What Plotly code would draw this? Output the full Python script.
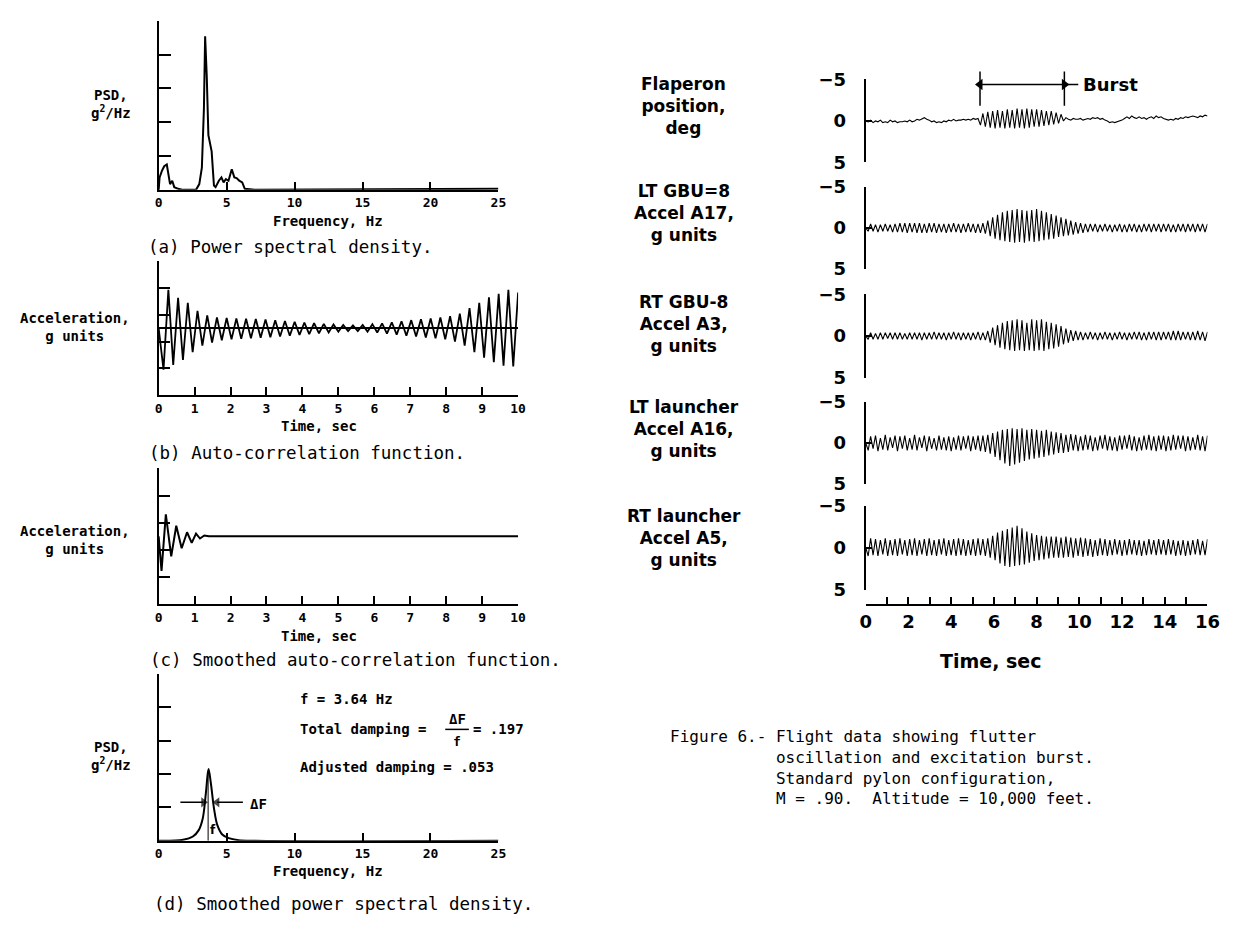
import numpy as np
import plotly.graph_objects as go

# ---------------- data ----------------
# (a) Power spectral density
FREQ_A = [0, 0.07, 0.24, 0.41, 0.6, 0.72, 0.84, 1.0, 1.15, 1.44, 1.8, 2.75, 2.99, 3.18, 3.33, 3.42,
          3.54, 3.66, 3.9, 4.07, 4.19, 4.43, 4.62, 4.78, 4.95, 5.14, 5.38, 5.57, 5.74, 5.93, 6.15,
          6.34, 7.06, 25.0]
PSD_A = [0, 0.37, 0.56, 0.70, 0.75, 0.46, 0.17, 0.27, 0.08, 0.03, 0, 0, 0.17, 0.66, 2.39, 4.54,
         3.36, 1.62, 1.14, 0.13, 0.08, 0.27, 0.37, 0.22, 0.32, 0.27, 0.61, 0.37, 0.35, 0.27, 0.22,
         0.03, 0, 0.03]

# (b) Auto-correlation function: successive extremes over 0-10 s
ACF = [0, -1.55, 1.43, -1.37, 1.13, -1.19, 0.95, -0.9, 0.65, -0.65, 0.48,
       -0.54, 0.4, -0.45, 0.38, -0.42, 0.36, -0.4, 0.35, -0.38, 0.34,
       -0.36, 0.32, -0.34, 0.3, -0.31, 0.27, -0.28, 0.24, -0.25, 0.21,
       -0.22, 0.19, -0.19, 0.16, -0.16, 0.14, -0.13, 0.12, -0.11, 0.1,
       -0.11, 0.12, -0.13, 0.15, -0.16, 0.18, -0.2, 0.22, -0.24, 0.26,
       -0.28, 0.3, -0.31, 0.33, -0.35, 0.36, -0.38, 0.4, -0.42, 0.45,
       -0.5, 0.54, -0.65, 0.75, -0.9, 0.95, -1.1, 1.15, -1.27, 1.28,
       -1.4, 1.43, -1.43, 1.33]
ACF_T_END = 10.0

# (c) Smoothed auto-correlation function
SACF_T = [0, 0.08, 0.2, 0.35, 0.49, 0.64, 0.79, 0.92, 1.04, 1.15, 1.27, 1.4, 10.0]
SACF_V = [0, -1.27, 0.81, -0.74, 0.39, -0.44, 0.15, -0.24, 0.1, -0.08, 0.03, 0, 0]

# (d) Smoothed power spectral density
FREQ_D = [0, 1.8, 2.52, 2.95, 3.24, 3.48, 3.67, 3.84, 4.08, 4.32, 4.68, 5.16, 5.88, 7.1, 25.0]
PSD_D = [0, 0.03, 0.13, 0.32, 0.66, 1.44, 2.15, 1.73, 0.95, 0.47, 0.19, 0.08, 0.02, 0, 0]
F_PEAK = 3.64
F_LINE_TOP = 2.1
DF_LEVEL = 1.15
DF_LEFT_ARROW = [1.6, 3.3]    # tail -> head (Hz)
DF_RIGHT_ARROW = [6.2, 4.3]   # tail -> head (Hz)

# Right: flight records, successive extremes over 0-16 s
FLAP = [0,
        0.1, -0.1, 0.2, 0.0, 0.1, -0.1, 0.2, 0.1, 0.2, -0.1,
        0.1, 0.0, 0.2, 0.1, 0.1, 0.0, 0.1, -0.1, 0.1, 0.0,
        -0.2, -0.1, -0.3, -0.4, -0.2, -0.1, 0.1, 0.0, 0.2, 0.1,
        0.2, 0.0, 0.1, -0.1, 0.0, -0.2, 0.0, -0.1, -0.1, -0.2,
        -0.1, -0.2, -0.1, -0.3, -0.2, -0.3, 0.5, -0.9, 0.7, -1.1,
        0.8, -1.2, 0.9, -1.3, 0.8, -1.2, 0.9, -1.4, 0.8, -1.3,
        0.9, -1.5, 0.8, -1.4, 0.9, -1.5, 0.8, -1.4, 0.7, -1.4,
        0.7, -1.3, 0.6, -1.2, 0.5, -1.2, 0.4, -1.0, 0.3, -0.8,
        0.0, -0.4, -0.2, -0.1, -0.3, -0.2, -0.2, -0.3, -0.1, -0.2,
        -0.3, -0.2, -0.4, -0.3, -0.4, -0.2, -0.3, -0.1, 0.0, 0.2,
        0.1, 0.2, 0.1, 0.0, -0.1, -0.3, -0.5, -0.3, -0.6, -0.4,
        -0.3, -0.5, -0.3, -0.4, -0.2, -0.4, -0.5, -0.3, -0.6, -0.4,
        -0.5, -0.3, -0.2, -0.1, -0.2, -0.1, -0.3, -0.2, -0.4, -0.3,
        -0.5, -0.4, -0.5, -0.6, -0.5, -0.4, -0.6, -0.5, -0.7, -0.6]

A17 = [0,
       0.4, -0.5, 0.4, -0.4, 0.5, -0.4, 0.4, -0.5, 0.4, -0.4,
       0.5, -0.5, 0.5, -0.6, 0.5, -0.6, 0.6, -0.6, 0.5, -0.6,
       0.6, -0.6, 0.6, -0.5, 0.6, -0.6, 0.5, -0.6, 0.6, -0.5,
       0.5, -0.5, 0.6, -0.5, 0.5, -0.6, 0.5, -0.5, 0.6, -0.5,
       0.5, -0.6, 0.5, -0.5, 0.6, -0.5, 0.6, -0.6, 0.7, -0.9,
       1.0, -1.3, 1.3, -1.6, 1.5, -1.9, 1.6, -2.1, 1.7, -2.2,
       1.8, -2.3, 1.7, -2.2, 1.8, -2.1, 1.6, -2.2, 1.7, -2.3,
       1.6, -2.1, 1.5, -1.9, 1.4, -1.7, 1.3, -1.5, 1.1, -1.3,
       1.0, -1.1, 0.9, -0.9, 0.8, -0.7, 0.7, -0.6, 0.6, -0.5,
       0.5, -0.5, 0.4, -0.5, 0.5, -0.4, 0.4, -0.5, 0.4, -0.4,
       0.5, -0.4, 0.4, -0.5, 0.5, -0.4, 0.5, -0.5, 0.4, -0.5,
       0.5, -0.4, 0.5, -0.5, 0.4, -0.5, 0.5, -0.5, 0.4, -0.5,
       0.5, -0.5, 0.4, -0.5, 0.5, -0.4, 0.5, -0.5, 0.4, -0.5,
       0.5, -0.5, 0.4, -0.5, 0.5, -0.5, 0.4, -0.5, 0.5, -0.5]

A3 = [0,
      0.4, -0.4, 0.4, -0.3, 0.4, -0.4, 0.4, -0.4, 0.3, -0.4,
      0.4, -0.4, 0.4, -0.4, 0.4, -0.3, 0.4, -0.4, 0.4, -0.4,
      0.4, -0.4, 0.5, -0.4, 0.4, -0.4, 0.4, -0.5, 0.4, -0.4,
      0.4, -0.4, 0.5, -0.4, 0.4, -0.5, 0.4, -0.4, 0.5, -0.4,
      0.4, -0.4, 0.5, -0.4, 0.4, -0.5, 0.5, -0.4, 0.5, -0.6,
      0.8, -1.0, 1.1, -1.3, 1.4, -1.6, 1.6, -1.8, 1.7, -1.9,
      1.8, -2.0, 1.7, -1.9, 1.8, -1.6, 1.7, -2.0, 1.8, -1.9,
      1.7, -2.0, 1.8, -1.7, 1.6, -1.6, 1.5, -1.4, 1.3, -1.2,
      1.0, -0.9, 0.8, -0.7, 0.6, -0.6, 0.5, -0.5, 0.5, -0.4,
      0.4, -0.5, 0.4, -0.4, 0.5, -0.4, 0.4, -0.5, 0.4, -0.4,
      0.5, -0.4, 0.4, -0.5, 0.4, -0.4, 0.5, -0.4, 0.4, -0.5,
      0.4, -0.5, 0.5, -0.4, 0.5, -0.5, 0.4, -0.5, 0.5, -0.5,
      0.5, -0.5, 0.4, -0.5, 0.5, -0.6, 0.5, -0.6, 0.5, -0.5,
      0.4, -0.5, 0.5, -0.5, 0.5, -0.6, 0.5, -0.5, 0.6, -0.5]

A16 = [0,
       0.9, -0.8, 0.7, -0.9, 1.0, -0.6, 0.8, -1.0, 0.9, -0.7,
       0.6, -0.9, 1.0, -0.8, 0.7, -0.9, 0.9, -0.6, 0.8, -1.0,
       0.9, -0.7, 0.6, -0.9, 1.0, -0.8, 0.7, -0.6, 0.9, -0.9,
       0.8, -0.7, 0.9, -0.8, 1.0, -0.7, 0.8, -0.9, 0.9, -0.8,
       0.7, -0.9, 1.0, -0.8, 0.8, -0.9, 1.0, -0.9, 1.1, -1.0,
       1.3, -1.2, 1.7, -1.4, 2.1, -1.6, 2.5, -1.7, 2.8, -1.8,
       2.6, -1.7, 2.4, -1.8, 2.2, -1.6, 2.0, -1.7, 1.9, -1.6,
       1.8, -1.5, 1.7, -1.6, 1.5, -1.4, 1.4, -1.3, 1.2, -1.2,
       1.2, -1.0, 1.1, -1.1, 0.9, -1.0, 1.0, -0.8, 0.9, -1.0,
       0.8, -0.9, 1.0, -0.7, 0.9, -0.9, 0.7, -1.0, 0.9, -0.8,
       0.9, -0.7, 1.0, -0.9, 0.8, -0.9, 0.7, -1.0, 0.9, -0.8,
       1.0, -0.7, 0.9, -0.9, 0.8, -1.0, 0.9, -0.8, 1.0, -0.9,
       0.8, -0.9, 1.0, -0.8, 0.9, -1.0, 0.8, -0.9, 0.7, -0.9,
       1.0, -0.8, 0.9, -0.7, 0.8, -1.0, 0.9, -0.8, 1.0, -0.9]

A5 = [0,
      1.0, -1.1, 0.9, -1.0, 1.0, -0.9, 0.8, -1.1, 1.0, -0.9,
      0.9, -1.0, 1.0, -1.1, 0.8, -0.9, 1.0, -1.0, 0.9, -1.1,
      1.0, -0.9, 0.8, -1.0, 1.0, -1.1, 0.9, -0.9, 1.0, -1.0,
      0.8, -1.1, 1.0, -0.9, 0.9, -1.0, 1.0, -1.1, 0.9, -1.0,
      1.0, -0.9, 0.9, -1.0, 1.0, -1.1, 0.9, -1.0, 1.0, -1.1,
      1.2, -1.4, 1.5, -1.8, 1.9, -2.0, 2.2, -2.2, 2.3, -2.4,
      2.2, -2.6, 2.1, -2.3, 2.0, -1.9, 1.8, -1.7, 1.6, -1.5,
      1.5, -1.4, 1.4, -1.3, 1.3, -1.3, 1.2, -1.3, 1.2, -1.2,
      1.2, -1.3, 1.1, -1.2, 1.2, -1.1, 1.0, -1.2, 1.1, -1.1,
      1.0, -1.0, 1.1, -0.9, 1.0, -1.1, 0.9, -1.0, 1.0, -0.9,
      0.9, -1.0, 0.8, -0.9, 1.0, -0.9, 0.9, -1.0, 0.8, -0.9,
      0.9, -0.9, 1.0, -0.8, 0.9, -1.0, 0.8, -0.9, 0.9, -1.0,
      0.8, -0.9, 0.9, -1.0, 0.8, -0.9, 1.0, -0.8, 0.9, -0.9,
      1.0, -0.8, 0.9, -0.9, 0.8, -1.0, 0.9, -0.8, 0.9, -1.0]

RECORDS = [FLAP, A17, A3, A16, A5]
RECORD_LABELS = ["Flaperon<br>position,<br>deg",
                 "LT GBU=8<br>Accel A17,<br>g units",
                 "RT GBU-8<br>Accel A3,<br>g units",
                 "LT launcher<br>Accel A16,<br>g units",
                 "RT launcher<br>Accel A5,<br>g units"]
RECORD_T_END = 16.0
BURST = [5.35, 9.3]
BURST_LEVEL = -4.4

TICKS_A = [0, 5, 10, 15, 20, 25]
TICKS_B = list(range(0, 11))
TICKS_T = list(range(0, 17))
TICKTEXT_T = [str(t) if t % 2 == 0 else "" for t in TICKS_T]

CAPTION = ["Figure 6.- Flight data showing flutter",
           "oscillation and excitation burst.",
           "Standard pylon configuration,",
           "M = .90.\u00a0 Altitude = 10,000 feet."]

# ---------------- layout helpers ----------------
W, H = 1251, 929


def xd(a, b):
    return [a / W, b / W]


def yd(top, bot):
    return [1 - bot / H, 1 - top / H]


def px(x):
    return x / W


def py(y):
    return 1 - y / H


SANS = "DejaVu Sans"
MONO = "DejaVu Sans Mono"


def bfont(size, family=SANS):
    return dict(family=family, size=size, color="black", weight="bold")


def mfont(size):
    return bfont(size, MONO)


def axis(**kw):
    base = dict(showgrid=False, zeroline=False, showline=True, linecolor="black",
                linewidth=2, ticks="inside", tickcolor="black", tickwidth=1.5,
                fixedrange=True)
    base.update(kw)
    return base


fig = go.Figure()
LINE = dict(color="black", width=2)

fig.add_trace(go.Scatter(x=FREQ_A, y=PSD_A, mode="lines", line=LINE, xaxis="x", yaxis="y"))
fig.add_trace(go.Scatter(x=np.linspace(0, ACF_T_END, len(ACF)), y=ACF, mode="lines",
                         line=dict(color="black", width=1.8), xaxis="x2", yaxis="y2"))
fig.add_trace(go.Scatter(x=SACF_T, y=SACF_V, mode="lines", line=LINE, xaxis="x3", yaxis="y3"))
fig.add_trace(go.Scatter(x=FREQ_D, y=PSD_D, mode="lines", line=LINE, xaxis="x4", yaxis="y4",
                         line_shape="spline"))
fig.add_trace(go.Scatter(x=[F_PEAK, F_PEAK], y=[0, F_LINE_TOP], mode="lines",
                         line=dict(color="black", width=1), xaxis="x4", yaxis="y4"))
# delta-F arrows
for arr, sym in [(DF_LEFT_ARROW, "triangle-right"), (DF_RIGHT_ARROW, "triangle-left")]:
    fig.add_trace(go.Scatter(x=arr, y=[DF_LEVEL, DF_LEVEL], mode="lines+markers",
                             line=dict(color="black", width=1.5),
                             marker=dict(symbol=["line-ns", sym], size=[0, 9], color="black",
                                         line=dict(width=0)),
                             xaxis="x4", yaxis="y4"))

for i, rec in enumerate(RECORDS):
    n = i + 5
    fig.add_trace(go.Scatter(x=np.linspace(0, RECORD_T_END, len(rec)), y=rec, mode="lines",
                             line=dict(color="black", width=1.1),
                             xaxis=f"x{n}", yaxis=f"y{n}"))
# burst double arrow
fig.add_trace(go.Scatter(x=BURST, y=[BURST_LEVEL, BURST_LEVEL], mode="lines+markers",
                         line=dict(color="black", width=1.5),
                         marker=dict(symbol=["triangle-left", "triangle-right"], size=10,
                                     color="black", line=dict(width=0)),
                         xaxis="x5", yaxis="y5", cliponaxis=False))
# empty trace to materialise the shared time axis
fig.add_trace(go.Scatter(x=[None], y=[None], xaxis="x10", yaxis="y10"))

lay = dict(width=W, height=H, margin=dict(l=0, r=0, t=0, b=0),
           paper_bgcolor="white", plot_bgcolor="rgba(0,0,0,0)", showlegend=False)

TF = mfont(13)
# (a)
lay["xaxis"] = axis(domain=xd(155, 500), anchor="y", range=[0, 25], tickvals=TICKS_A,
                    ticklen=8, tickfont=TF)
lay["yaxis"] = axis(domain=yd(10, 183), anchor="x", range=[0, 5], tickvals=[0, 1, 2, 3, 4, 5],
                    ticklen=12, showticklabels=False)
# (b)
lay["xaxis2"] = axis(domain=xd(155, 520), anchor="y2", range=[0, 10], tickvals=TICKS_B,
                     ticklen=8, tickfont=TF)
lay["yaxis2"] = axis(domain=yd(256, 393), anchor="x2", range=[-2.5, 2.5],
                     tickvals=[-2.5, -1.5, -0.5, 0.5, 1.5, 2.5], ticklen=11,
                     showticklabels=False, zeroline=True, zerolinecolor="black", zerolinewidth=2)
# (c)
lay["xaxis3"] = axis(domain=xd(155, 520), anchor="y3", range=[0, 10], tickvals=TICKS_B,
                     ticklen=8, tickfont=TF)
lay["yaxis3"] = axis(domain=yd(468, 607), anchor="x3", range=[-2.5, 2.5],
                     tickvals=[-2.5, -1.5, -0.5, 0.5, 1.5, 2.5], ticklen=11,
                     showticklabels=False)
# (d)
lay["xaxis4"] = axis(domain=xd(155, 500), anchor="y4", range=[0, 25], tickvals=TICKS_A,
                     ticklen=8, tickfont=TF)
lay["yaxis4"] = axis(domain=yd(678, 849), anchor="x4", range=[0, 5], tickvals=[0, 1, 2, 3, 4, 5],
                     ticklen=12, showticklabels=False)

ROW_TOPS = [70, 180, 290, 400, 506]
ROW_BOTS = [155, 264, 375, 484, 592]
for i in range(5):
    n = i + 5
    lay[f"xaxis{n}"] = dict(domain=xd(873, 1220), anchor=f"y{n}", range=[0, RECORD_T_END],
                            visible=False, fixedrange=True)
    lay[f"yaxis{n}"] = axis(domain=yd(ROW_TOPS[i], ROW_BOTS[i]), anchor=f"x{n}",
                            range=[5, -5], tickvals=[-5, 0, 5], ticktext=["\u22125", "0", "5"],
                            ticklen=6, tickfont=bfont(18), ticklabelstandoff=14)
lay["xaxis10"] = axis(domain=xd(873, 1220), anchor="y10", range=[0, RECORD_T_END],
                      tickvals=TICKS_T, ticktext=TICKTEXT_T, ticklen=7, tickfont=bfont(18))
lay["yaxis10"] = dict(domain=yd(590, 607), anchor="x10", visible=False, range=[0, 1],
                      fixedrange=True)

ann = []


def text(x, y, s, font, xanchor="center"):
    ann.append(dict(x=px(x), y=py(y), xref="paper", yref="paper", text=s, showarrow=False,
                    xanchor=xanchor, yanchor="middle", font=font))


def mono(x, y, s, size=17.5, align="left"):
    ann.append(dict(x=px(x), y=py(y), xref="paper", yref="paper", text=s, showarrow=False,
                    xanchor="left", yanchor="middle", align=align,
                    font=dict(family=MONO, size=size, color="black")))


# left-side labels
text(107, 95, "PSD,<br>g<sup>2</sup>/Hz", mfont(14))
text(70, 323, "Acceleration,<br>g units", mfont(14))
text(70, 541, "Acceleration,<br>g units", mfont(14))
text(107, 762, "PSD,<br>g<sup>2</sup>/Hz", mfont(14))
text(327, 215, "Frequency, Hz", mfont(14))
text(318, 425, "Time, sec", mfont(14))
text(318, 639, "Time, sec", mfont(14))
text(327, 880, "Frequency, Hz", mfont(14))
mono(142, 241, "(a) Power spectral density.")
mono(143, 452, "(b) Auto-correlation function.")
mono(144, 664, "(c) Smoothed auto-correlation function.")
mono(148, 914, "(d) Smoothed power spectral density.")

# (d) annotations
text(296, 704, "f = 3.64 Hz", mfont(14), xanchor="left")
text(296, 735, "Total damping =", mfont(14), xanchor="left")
text(458, 724, "\u0394F", mfont(14))
text(458, 747, "f", mfont(13))
text(472, 735, "= .197", mfont(14), xanchor="left")
text(296, 773, "Adjusted damping = .053", mfont(14), xanchor="left")
text(246, 811, "\u0394F", mfont(14), xanchor="left")
text(210, 838, "f", bfont(12))

# right-side labels
ROW_MID = [97, 207, 320, 428, 539]
for lab, ym in zip(RECORD_LABELS, ROW_MID):
    text(688, ym, lab, bfont(17))
text(1000, 665, "Time, sec", bfont(19))
ann.append(dict(x=10.1, y=BURST_LEVEL, xref="x5", yref="y5", text="Burst", showarrow=False,
                xanchor="left", yanchor="middle", font=bfont(18)))

# figure caption (one block, continuation lines indented under the title text)
indent = "\u00a0" * 11
cap = "<br>".join([CAPTION[0]] + [indent + s for s in CAPTION[1:]])
mono(672, 774, cap, 16)

shapes = []
for tb in BURST:
    shapes.append(dict(type="line", xref="x5", yref="paper", x0=tb, x1=tb,
                       y0=py(97), y1=py(62), line=dict(color="black", width=1.5)))
shapes.append(dict(type="line", xref="x5", yref="y5", x0=BURST[1], x1=9.95,
                   y0=BURST_LEVEL, y1=BURST_LEVEL, line=dict(color="black", width=1.5)))
# fraction bar
shapes.append(dict(type="line", xref="paper", yref="paper", x0=px(446), x1=px(470),
                   y0=py(735), y1=py(735), line=dict(color="black", width=1.5)))

lay["annotations"] = ann
lay["shapes"] = shapes
fig.update_layout(**lay)
fig.write_html("out.html", config={"displayModeBar": False},
               post_script="document.body.style.margin='0';document.body.style.overflow='hidden';")
